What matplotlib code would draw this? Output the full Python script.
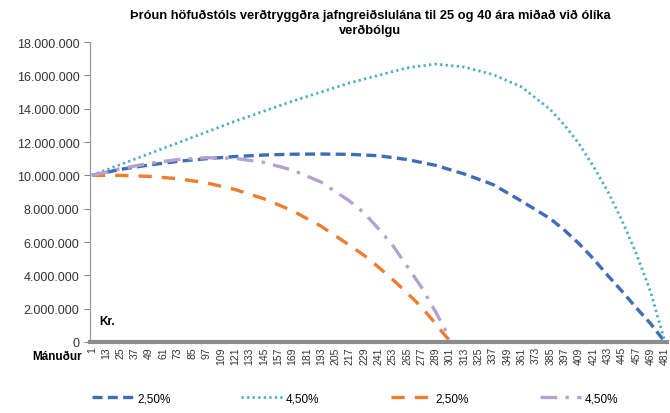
import matplotlib
matplotlib.use("Agg")
import matplotlib.pyplot as plt
from matplotlib.ticker import FuncFormatter

plt.rcParams['font.family'] = ['Liberation Sans', 'DejaVu Sans']

# months (40 year loans)
man_40 = [1, 25, 49, 73, 97, 121, 145, 169, 193, 217, 241, 265, 289, 313, 337, 361, 385, 397, 409,
          421, 433, 445, 457, 469, 481]
blue_25 = [10.0, 10.36, 10.62, 10.84, 11.0, 11.13, 11.22, 11.27, 11.28, 11.26, 11.18, 10.95, 10.6, 10.08,
           9.45, 8.45, 7.4, 6.7, 5.9, 5.0, 4.0, 3.05, 2.05, 1.1, 0.0]
aqua_45 = [10.0, 10.65, 11.3, 11.95, 12.6, 13.25, 13.85, 14.45, 15.0, 15.55, 16.0, 16.45, 16.68, 16.5,
           16.05, 15.3, 13.95, 13.0, 11.9, 10.55, 9.05, 7.3, 5.3, 3.0, 0.0]

# 25 year loans
man_25 = [1, 25, 49, 73, 97, 121, 145, 169, 193, 217, 229, 241, 253, 265, 277, 289, 295, 301]
orange_25 = [10.0, 10.0, 9.94, 9.8, 9.55, 9.15, 8.6, 7.88, 6.95, 5.8, 5.2, 4.5, 3.75, 2.95, 2.1, 1.1, 0.55, 0.05]
purple_45 = [10.0, 10.4, 10.72, 10.95, 11.06, 11.02, 10.78, 10.32, 9.6, 8.45, 7.75, 6.8, 5.8, 4.55, 3.3, 1.8, 1.0, 0.2]

xticks = list(range(1, 482, 12))

fig = plt.figure(figsize=(6.7, 4.14), dpi=100)
ax = fig.add_axes([0.134, 0.1715, 0.8615, 0.7245])

mil = 1e6
ax.plot(man_40, [v * mil for v in blue_25], color='#3F6DB5', lw=2.4, ls=(0, (3, 1.6)), label='2,50%')
ax.plot(man_40, [v * mil for v in aqua_45], color='#4BACC6', lw=2.0, ls=(0, (0.8, 1.2)), label='4,50%')
ax.plot(man_25, [v * mil for v in orange_25], color='#ED7D31', lw=2.4, ls=(0, (4, 3)), label='2,50%')
ax.plot(man_25, [v * mil for v in purple_45], color='#B3A2D0', lw=2.4, ls=(0, (5, 2.5, 1, 2.5)), label='4,50%')

ax.set_ylim(0, 18e6)
ax.set_xlim(-0.7, 482.7)
ax.set_yticks([i * 2e6 for i in range(10)])
ax.yaxis.set_major_formatter(FuncFormatter(lambda v, p: f"{int(v):,}".replace(",", ".")))
ax.set_xticks(xticks)
ax.set_xticklabels([str(t) for t in xticks], rotation=90, fontsize=7.5, color='#333333')
ax.tick_params(axis='x', length=0, pad=3)
ax.tick_params(axis='y', labelsize=9, colors='#333333', length=4, direction='out', color='#888888')

for s in ['top', 'right']:
    ax.spines[s].set_visible(False)
ax.spines['left'].set_color('#999999')
ax.spines['left'].set_linewidth(0.9)
ax.spines['bottom'].set_color('#8C8C8C')
ax.spines['bottom'].set_linewidth(3)

fig.text(0.552, 0.975, "Þróun höfuðstóls verðtryggðra jafngreiðsluléna til 25 og 40 ára miðað við ólíka\nverðbólgu".replace("luléna", "lulána"),
         ha='center', va='top', fontsize=9.3, fontweight='bold', linespacing=1.3)
fig.text(107 / 670, 1 - 322 / 414, "Kr.", ha='center', va='center', fontsize=8.5, fontweight='bold')
fig.text(82 / 670, 1 - 357 / 414, "Mánuður", ha='right', va='center', fontsize=8.5, fontweight='bold')

fig.legend(loc='lower center', bbox_to_anchor=(0.53, -0.005), ncol=4, frameon=False, fontsize=8.5,
           handlelength=3.5, columnspacing=6.0, handletextpad=0.3)

fig.savefig("out.png", dpi=100)
